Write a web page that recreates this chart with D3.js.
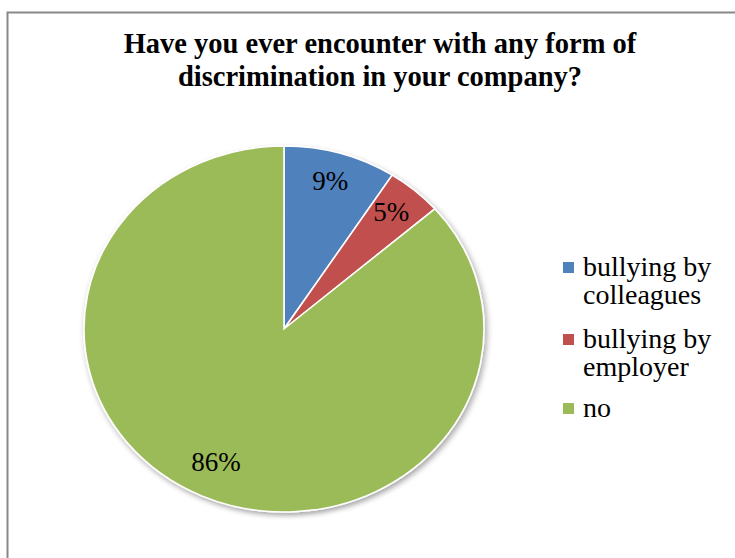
<!DOCTYPE html>
<html>
<head>
<meta charset="utf-8">
<script src="https://cdn.jsdelivr.net/npm/d3@7"></script>
<style>
  body { margin: 0; background: #fff; }
  svg { display: block; }
</style>
</head>
<body>
<div id="chart"></div>
<script>
// data
var titleLines = ["Have you ever encounter with any form of", "discrimination in your company?"];
var categories = ["bullying by colleagues", "bullying by employer", "no"];
var legendLines = [["bullying by", "colleagues"], ["bullying by", "employer"], ["no"]];
var values = [9.1, 4.5, 86.4];
var colors = ["#4F81BD", "#C0504D", "#9BBB59"];

var width = 735, height = 558;
var cx = 284, cy = 329, rx = 200, ry = 183;

var svg = d3.select("#chart").append("svg")
    .attr("width", width)
    .attr("height", height);

var defs = svg.append("defs");
var shadow = defs.append("filter")
    .attr("id", "shadow")
    .attr("x", "-10%").attr("y", "-10%")
    .attr("width", "125%").attr("height", "125%");
shadow.append("feDropShadow")
    .attr("dx", 2).attr("dy", 3)
    .attr("stdDeviation", 3)
    .attr("flood-color", "#000")
    .attr("flood-opacity", 0.35);

// chart frame (runs off right and bottom edge)
svg.append("rect")
    .attr("x", 7.5).attr("y", 12.5)
    .attr("width", width + 20).attr("height", height + 20)
    .attr("fill", "none")
    .attr("stroke", "#888")
    .attr("stroke-width", 2);

// title
svg.append("text")
    .attr("x", 380)
    .attr("y", 53)
    .attr("text-anchor", "middle")
    .style("font-family", "'Liberation Serif', 'Times New Roman', serif")
    .style("font-weight", "bold")
    .style("font-size", "28.5px")
    .selectAll("tspan")
    .data(titleLines)
  .enter().append("tspan")
    .attr("x", 380)
    .attr("dy", function(d, i) { return i ? 33 : 0; })
    .text(function(d) { return d; });

var pie = d3.pie()
    .sort(null)
    .value(function(d) { return d; });

var arc = d3.arc()
    .innerRadius(0)
    .outerRadius(rx);

var labelArc = d3.arc()
    .innerRadius(rx * 0.82)
    .outerRadius(rx * 0.82);

var arcs = pie(values);

// pie is a bit squashed vertically in the reference
var g = svg.append("g")
    .attr("transform", "translate(" + cx + "," + cy + ") scale(1," + (ry / rx) + ")");

g.append("g")
    .attr("filter", "url(#shadow)")
    .selectAll("path")
    .data(arcs)
  .enter().append("path")
    .attr("d", arc)
    .attr("fill", function(d, i) { return colors[i]; })
    .attr("stroke", "#fff")
    .attr("stroke-width", 1.6);

// percentage labels (placed in unscaled coords)
svg.append("g")
    .selectAll("text")
    .data(arcs)
  .enter().append("text")
    .attr("x", function(d) { return cx + labelArc.centroid(d)[0]; })
    .attr("y", function(d) { return cy + labelArc.centroid(d)[1] * ry / rx; })
    .attr("dy", "0.2em")
    .attr("text-anchor", "middle")
    .style("font-family", "'Liberation Serif', 'Times New Roman', serif")
    .style("font-size", "27px")
    .style("fill", "#000")
    .text(function(d) { return Math.round(d.value) + "%"; });

// legend
var legendTop = [276, 348, 417];
var legend = svg.selectAll(".legend")
    .data(categories)
  .enter().append("g")
    .attr("class", "legend")
    .attr("transform", function(d, i) { return "translate(563," + legendTop[i] + ")"; });

legend.append("rect")
    .attr("x", 0)
    .attr("y", -14)
    .attr("width", 11)
    .attr("height", 11)
    .attr("fill", function(d, i) { return colors[i]; });

legend.append("text")
    .style("font-family", "'Liberation Serif', 'Times New Roman', serif")
    .style("font-size", "28px")
    .style("fill", "#000")
    .selectAll("tspan")
    .data(function(d, i) { return legendLines[i]; })
  .enter().append("tspan")
    .attr("x", 20)
    .attr("y", function(d, j) { return j * 28; })
    .text(function(d) { return d; });
</script>
</body>
</html>
